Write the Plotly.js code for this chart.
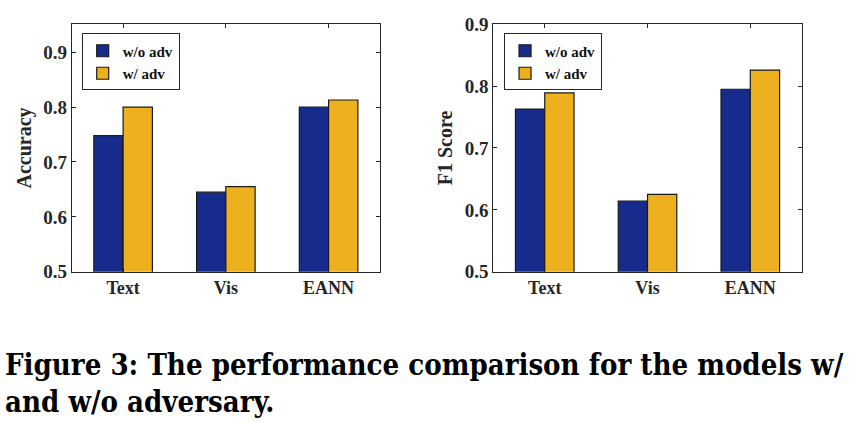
<!DOCTYPE html>
<html>
<head>
<meta charset="utf-8">
<script src="https://cdn.plot.ly/plotly-3.0.1.min.js"></script>
<style>html,body{margin:0;padding:0;background:#fff;}#chart{width:861px;height:424px;}</style>
</head>
<body>
<div id="chart"></div>
<script>
const categories = ["Text", "Vis", "EANN"];
const seriesNames = ["w/o adv", "w/ adv"];
const accuracyWithout = [0.748, 0.645, 0.800];
const accuracyWith = [0.800, 0.655, 0.813];
const f1Without = [0.763, 0.614, 0.795];
const f1With = [0.789, 0.625, 0.826];
const accTicks = [0.5, 0.6, 0.7, 0.8, 0.9];
const f1Ticks = [0.5, 0.6, 0.7, 0.8, 0.9];
const captionLine1 = "Figure 3: The performance comparison for the models w/";
const captionLine2 = "and w/o adversary.";

const blue = "#162B8B";
const gold = "#EDB120";
const serif = "Liberation Serif, Times New Roman, serif";
const axisColor = "#262626";

// pick caption font: condensed serif if installed, scaled to the reference line width
function measure(font) {
  const c = document.createElement("canvas").getContext("2d");
  c.font = font;
  return c.measureText(captionLine1).width;
}
let capFamily = "DejaVu Serif Condensed";
const wTest = measure("bold 100px 'DejaVu Serif Condensed', monospace");
const wMono = measure("bold 100px monospace");
if (Math.abs(wTest - wMono) < 1) capFamily = "Liberation Serif";
const wCap = measure("bold 100px '" + capFamily + "', serif");
let capSize = Math.round(100 * 838 / wCap * 10) / 10;
if (capFamily === "Liberation Serif") capSize = Math.min(capSize, 32);

function bar(y, name, color, xa, ya, legend) {
  return {
    type: "bar", x: categories, y: y, name: name, xaxis: xa, yaxis: ya, legend: legend,
    marker: {color: color, line: {color: "#1a1a1a", width: 1.2}},
    showlegend: true, hoverinfo: "skip"
  };
}

const traces = [
  bar(accuracyWithout, seriesNames[0], blue, "x", "y", "legend"),
  bar(accuracyWith, seriesNames[1], gold, "x", "y", "legend"),
  bar(f1Without, seriesNames[0], blue, "x2", "y2", "legend2"),
  bar(f1With, seriesNames[1], gold, "x2", "y2", "legend2")
];

const tickFont = {family: serif, size: 19, color: "#262626", weight: "bold"};
function xax(domain, anchor) {
  return {
    domain: domain, anchor: anchor, range: [-0.5, 2.5], type: "category",
    showline: true, linecolor: axisColor, linewidth: 1, mirror: "ticks",
    ticks: "inside", ticklen: 4, tickcolor: axisColor,
    tickfont: {family: serif, size: 18, color: "#262626", weight: "bold"},
    showgrid: false, zeroline: false, fixedrange: true
  };
}
function yax(range, ticks, title, anchor) {
  return {
    domain: [0.3592, 0.9427], anchor: anchor, range: range, tickvals: ticks,
    ticktext: ticks.map(v => v.toFixed(1)),
    showline: true, linecolor: axisColor, linewidth: 1, mirror: "ticks",
    ticks: "inside", ticklen: 4, tickcolor: axisColor,
    tickfont: tickFont, showgrid: false, zeroline: false, fixedrange: true,
    title: {text: title, font: {family: serif, size: 20, color: "#262626", weight: "bold"}, standoff: 6}
  };
}
const legendBase = {
  bgcolor: "#ffffff", bordercolor: "#262626", borderwidth: 1,
  font: {family: serif, size: 15, color: "#111", weight: "bold"},
  xanchor: "left", yanchor: "top", tracegroupgap: 0, itemwidth: 30,
  itemclick: false, itemdoubleclick: false
};

const layout = {
  width: 861, height: 424,
  margin: {l: 0, r: 0, t: 0, b: 0},
  paper_bgcolor: "#ffffff", plot_bgcolor: "#ffffff",
  barmode: "group", bargap: 0.43, bargroupgap: 0,
  xaxis: xax([0.0833, 0.4413], "y"),
  yaxis: yax([0.5, 0.951], accTicks, "Accuracy", "x"),
  xaxis2: xax([0.5730, 0.9311], "y2"),
  yaxis2: yax([0.5, 0.9], f1Ticks, "F1 Score", "x2"),
  legend: Object.assign({x: 0.0949, y: 0.921}, legendBase),
  legend2: Object.assign({x: 0.5854, y: 0.921}, legendBase),
  annotations: [
    {text: captionLine1, xref: "paper", yref: "paper", x: 0.003, y: 1 - 346/424, xanchor: "left", yanchor: "top",
     showarrow: false, font: {family: capFamily + ", serif", size: capSize, color: "#000", weight: "bold"}},
    {text: captionLine2, xref: "paper", yref: "paper", x: 0.003, y: 1 - 383/424, xanchor: "left", yanchor: "top",
     showarrow: false, font: {family: capFamily + ", serif", size: capSize, color: "#000", weight: "bold"}}
  ]
};

Plotly.newPlot("chart", traces, layout, {displayModeBar: false, staticPlot: true});
</script>
</body>
</html>
